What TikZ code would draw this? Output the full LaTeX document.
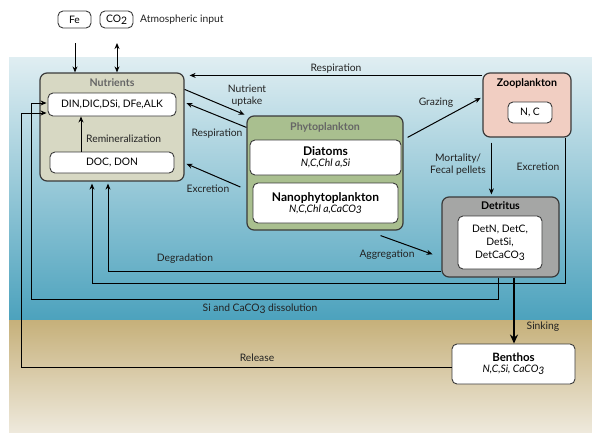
\documentclass[tikz,border=0pt]{standalone}
\usepackage{fontspec}
\setmainfont{Lato}
\usetikzlibrary{arrows.meta}

\definecolor{seatop}{HTML}{E0EEF2}
\definecolor{seabot}{HTML}{4CA2BD}
\definecolor{sedtop}{HTML}{C6B07A}
\definecolor{sedbot}{HTML}{EEE9DC}
\definecolor{nutfill}{HTML}{D7D8C3}
\definecolor{phyfill}{HTML}{A9BF8F}
\definecolor{zoofill}{HTML}{F1CEC2}
\definecolor{detfill}{HTML}{A5A6A5}
\definecolor{edge}{HTML}{3A3A3A}
\definecolor{titlegray}{HTML}{666666}
\definecolor{ink}{HTML}{222222}

\newcommand{\lowr}[1]{\raisebox{-0.35ex}{#1}}

\begin{document}
\begin{tikzpicture}[>=Stealth, x=1pt, y=-1pt,
    font=\fontsize{10.3}{12}\selectfont,
    box/.style={draw=edge, line width=1.2pt, rounded corners=7pt, inner sep=0pt},
    inbox/.style={draw=edge, line width=0.9pt, fill=white, rounded corners=5pt, inner sep=0pt, align=center},
    title/.style={font=\fontsize{10.6}{12}\selectfont\bfseries},
    flow/.style={-{Stealth[length=6pt,width=5pt]}, line width=1pt},
    lbl/.style={text=ink, align=center, inner sep=1pt}]

    % fundo: oceano e sedimento
    \useasboundingbox (0,0) rectangle (592,432);
    \shade[top color=seatop, bottom color=seabot] (9,57) rectangle (592,320);
    \shade[top color=sedtop, bottom color=sedbot] (9,320) rectangle (592,432);

    % entrada atmosferica
    \node[inbox, minimum width=33, minimum height=17] (fe) at (74.5,19.5) {Fe};
    \node[inbox, minimum width=33, minimum height=17] (co2) at (116.5,19.5) {CO\lowr{2}};
    \node[lbl, anchor=west] (atm) at (139,20) {Atmospheric input};

    % nutrientes
    \node[box, fill=nutfill, minimum width=144, minimum height=108] (nut) at (112,127) {};
    \node[title, text=titlegray] (nuttitle) at (112,83) {Nutrients};
    \node[inbox, minimum width=128, minimum height=23] (din) at (112,104.5) {DIN,DIC,DSi, DFe,ALK};
    \node[inbox, minimum width=124, minimum height=21] (doc) at (112,162.5) {DOC, DON};
    \draw[flow] ([xshift=-31pt]doc.north) -- ([xshift=-31pt]din.south);
    \node[lbl, anchor=west] (remin) at (85,139) {Remineralization};

    % fitoplancton
    \node[box, fill=phyfill, minimum width=156, minimum height=114] (phy) at (325,173) {};
    \node[title, text=titlegray] (phytitle) at (325,127) {Phytoplankton};
    \node[inbox, minimum width=151, minimum height=35] (dia) at (325.5,157.5)
        {{\fontsize{12}{13}\selectfont\bfseries Diatoms}\\[-1pt] \textit{N,C,Chl a,Si}};
    \node[inbox, minimum width=145, minimum height=40] (nano) at (325.5,203)
        {{\fontsize{12}{13}\selectfont\bfseries Nanophytoplankton}\\[-1pt] \textit{N,C,Chl a,CaCO\lowr{3}}};

    % zooplancton
    \node[box, fill=zoofill, minimum width=88, minimum height=64] (zoo) at (527,105) {};
    \node[title] (zootitle) at (527,83) {Zooplankton};
    \node[inbox, minimum width=44, minimum height=21] (zoonc) at (530,112.5) {N, C};

    % detrito
    \node[box, fill=detfill, minimum width=117, minimum height=80] (det) at (500.5,237) {};
    \node[title] (dettitle) at (500.5,206) {Detritus};
    \node[inbox, minimum width=84, minimum height=53, font=\fontsize{10.3}{13}\selectfont] (detin) at (500,242.5)
        {DetN, DetC,\\ DetSi,\\ DetCaCO\lowr{3}};

    % bentos
    \node[inbox, minimum width=123, minimum height=40] (ben) at (513.5,364)
        {{\fontsize{11.5}{12}\selectfont\bfseries Benthos}\\[-1pt] \textit{N,C,Si, CaCO\lowr{3}}};

    % pontos de dobra
    \coordinate (fetail) at (75,43);
    \coordinate (co2tail) at (117,43);
    \coordinate (resp) at ([yshift=-3pt]zoo.north west);
    \coordinate (mort) at ([xshift=9pt,yshift=-5pt]zoo.south west);
    \coordinate (zexc) at ([xshift=-6pt]zoo.south east);
    \coordinate (detbot) at ([xshift=-2.5pt]det.south);
    \coordinate (sink) at ([xshift=13.5pt]det.south);
    \coordinate (six) at (31,103);
    \coordinate (relx) at (21,113);

    % fluxos
    \draw[flow] (fetail) -- (fetail |- nut.north);
    \draw[flow, {Stealth[length=6pt,width=5pt]}-{Stealth[length=6pt,width=5pt]}] (co2tail) -- (co2tail |- nut.north);
    \draw[flow, shorten >=5pt] (resp) -- (resp -| nut.east);
    \draw[flow, shorten >=2pt] ([yshift=-17pt]nut.north east) -- (phy.north west);
    \draw[flow, shorten >=2pt] ([yshift=-12pt]phy.north west) -- ([yshift=-30pt]nut.north east);
    \draw[flow, shorten >=2pt] ([xshift=-6pt,yshift=-14pt]phy.west) -- ([yshift=-36pt]nut.east);
    \draw[flow, shorten >=2pt] ([xshift=4pt,yshift=-22pt]phy.north east) -- ([yshift=8pt]zoo.west);
    \draw[flow, shorten >=2pt] (mort) -- (mort |- det.north);
    \draw[flow, shorten >=2pt] (zexc) |- ([xshift=-20pt,yshift=-102pt]nut.south) -- ([xshift=-20pt]nut.south);
    \draw[flow, shorten >=2pt] ([yshift=-34pt]det.west) -| ([xshift=-4pt]nut.south);
    \draw[flow, shorten >=2pt] ([xshift=-23pt,yshift=-5pt]phy.south east) -- ([xshift=-7pt,yshift=-18pt]det.west);
    \draw[flow, shorten >=1pt] (detbot) -- ++(0,22) -| (six) -- (six -| din.west);
    \draw[flow, shorten >=1pt] ([yshift=-3pt]ben.west) -| (relx) -- (relx -| din.west);
    \draw[-{Stealth[length=9pt,width=8pt]}, line width=2.5pt] (sink) -- (sink |- ben.north);

    % rotulos
    \node[lbl] (lresp) at (336,69) {Respiration};
    \node[lbl] (lupt) at (247,96) {Nutrient\\ uptake};
    \node[lbl] (lresp2) at (217,134) {Respiration};
    \node[lbl] (lexc) at (208,189) {Excretion};
    \node[lbl] (lgraz) at (436,103) {Grazing};
    \node[lbl] (lmort) at (458,165) {Mortality/\\ Fecal pellets};
    \node[lbl] (lexc2) at (538,167) {Excretion};
    \node[lbl] (lagg) at (387,255) {Aggregation};
    \node[lbl] (ldeg) at (185,259) {Degradation};
    \node[lbl] (ldis) at (260,309) {Si and CaCO\lowr{3} dissolution};
    \node[lbl] (lsink) at (543,327) {Sinking};
    \node[lbl] (lrel) at (257,358) {Release};

\end{tikzpicture}
\end{document}
